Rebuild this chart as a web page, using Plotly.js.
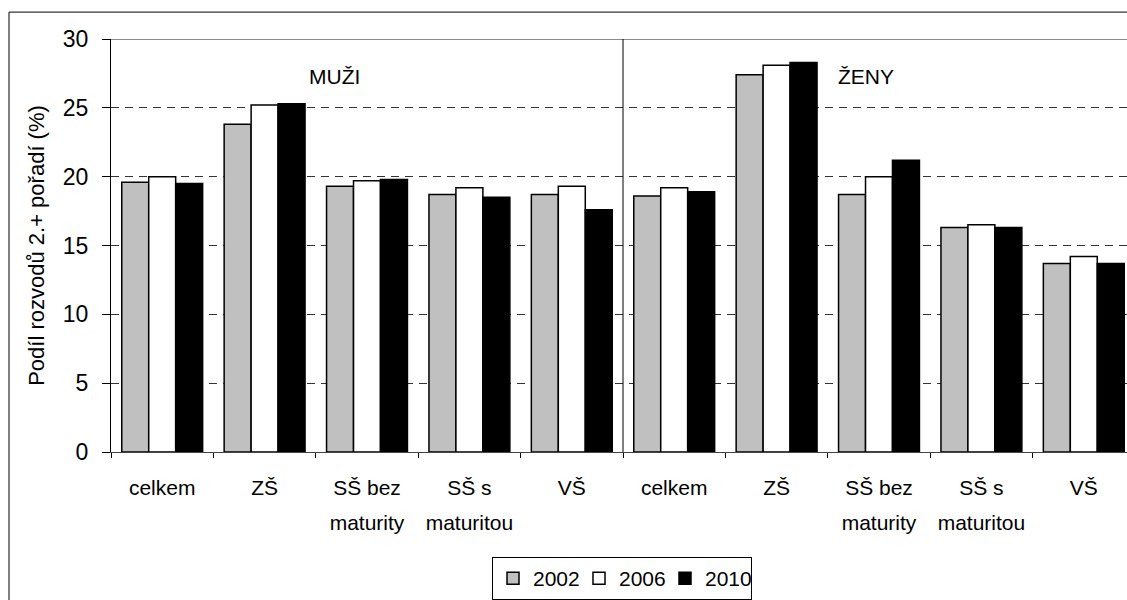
<!DOCTYPE html>
<html>
<head>
<meta charset="utf-8">
<script src="https://cdn.plot.ly/plotly-3.0.1.min.js"></script>
<style>html,body{margin:0;padding:0;background:#fff;}#chart{width:1127px;height:600px;}</style>
</head>
<body>
<div id="chart"></div>
<script>
const categories = ["M_celkem","M_ZS","M_SSbez","M_SSs","M_VS","Z_celkem","Z_ZS","Z_SSbez","Z_SSs","Z_VS"];
const tickLabelsLine1 = ["celkem","ZŠ","SŠ bez","SŠ s","VŠ","celkem","ZŠ","SŠ bez","SŠ s","VŠ"];
const tickLabelsLine2 = ["","","maturity","maturitou","","","","maturity","maturitou",""];
const seriesNames = ["2002","2006","2010"];
const values2002 = [19.6, 23.8, 19.3, 18.7, 18.7, 18.6, 27.4, 18.7, 16.3, 13.7];
const values2006 = [20.0, 25.2, 19.7, 19.2, 19.3, 19.2, 28.1, 20.0, 16.5, 14.2];
const values2010 = [19.5, 25.3, 19.8, 18.5, 17.6, 18.9, 28.3, 21.2, 16.3, 13.7];
const groupLabels = ["MUŽI","ŽENY"];
const yTitle = "Podíl rozvodů 2.+ pořadí (%)";

const fills = ["#C0C0C0","#FFFFFF","#000000"];
const allValues = [values2002, values2006, values2010];

const traces = seriesNames.map((n, i) => ({
  type: "bar",
  name: n,
  x: categories,
  y: allValues[i],
  marker: {color: fills[i], line: {color: "#000000", width: 1.5}},
  hoverinfo: "skip"
}));
// empty helper trace so the second-line label axis is drawn
traces.push({
  type: "scatter", mode: "markers",
  x: categories, y: categories.map(() => null),
  xaxis: "x2", yaxis: "y",
  showlegend: false, hoverinfo: "skip"
});

const W = 1127, H = 600;
const L = 111, T = 39, B = 146.5;
const plotW = W - L, plotH = H - T - B;
const px = v => (v - L) / plotW;
const py = v => (H - B - v) / plotH;
const xRange = [-0.5, -0.5 + plotW / 102.4];

const layout = {
  width: W, height: H,
  margin: {l: L, r: 0, t: T, b: B},
  paper_bgcolor: "#FFFFFF",
  plot_bgcolor: "#FFFFFF",
  font: {family: "Liberation Sans, Arial, sans-serif", color: "#000000", size: 21},
  barmode: "group",
  bargap: 0.21,
  bargroupgap: 0,
  showlegend: true,
  legend: {
    orientation: "h",
    x: px(622), xanchor: "center",
    y: py(559), yanchor: "top",
    bordercolor: "#000000", borderwidth: 1,
    bgcolor: "#FFFFFF",
    font: {size: 21},
    itemwidth: 30,
    entrywidth: 41,
    tracegroupgap: 0
  },
  xaxis: {
    type: "category",
    range: xRange,
    tickmode: "array",
    tickvals: categories,
    ticktext: tickLabelsLine1,
    tickson: "boundaries",
    ticks: "outside", ticklen: 5, tickcolor: "#000000",
    showline: true, linecolor: "#444444", linewidth: 1,
    showgrid: false,
    tickfont: {size: 21},
    ticklabelstandoff: 17,
    fixedrange: true
  },
  xaxis2: {
    type: "category",
    overlaying: "x",
    side: "bottom",
    anchor: "y",
    range: xRange,
    tickmode: "array",
    tickvals: categories,
    ticktext: tickLabelsLine2,
    ticks: "",
    showline: false,
    showgrid: false,
    zeroline: false,
    tickfont: {size: 21},
    ticklabelstandoff: 56,
    fixedrange: true
  },
  yaxis: {
    range: [0, 30],
    tick0: 0, dtick: 5,
    ticks: "outside", ticklen: 8, tickcolor: "#000000",
    showline: true, linecolor: "#000000", linewidth: 1,
    showgrid: true, gridcolor: "#333333", gridwidth: 1, griddash: "8px,6px",
    zeroline: false,
    tickfont: {size: 23},
    ticklabelstandoff: 9,
    title: {text: yTitle, font: {size: 22}, standoff: 12},
    fixedrange: true
  },
  shapes: [
    {type: "line", xref: "paper", yref: "y", x0: 0, x1: 1, y0: 30, y1: 30, line: {color: "#8C8C8C", width: 2}},
    {type: "line", xref: "x", yref: "y", x0: 4.5, x1: 4.5, y0: 0, y1: 30, line: {color: "#000000", width: 1}},
    {type: "rect", xref: "paper", yref: "paper", x0: px(9), x1: px(1140), y0: py(12), y1: py(620), line: {color: "#000000", width: 1}, fillcolor: "rgba(0,0,0,0)", layer: "above"}
  ],
  annotations: [
    {text: groupLabels[0], xref: "paper", yref: "paper", x: px(334), y: py(77), showarrow: false, font: {size: 21}, xanchor: "center", yanchor: "middle"},
    {text: groupLabels[1], xref: "paper", yref: "paper", x: px(866), y: py(77), showarrow: false, font: {size: 21}, xanchor: "center", yanchor: "middle"}
  ]
};

Plotly.newPlot("chart", traces, layout, {staticPlot: true, displayModeBar: false});
</script>
</body>
</html>
